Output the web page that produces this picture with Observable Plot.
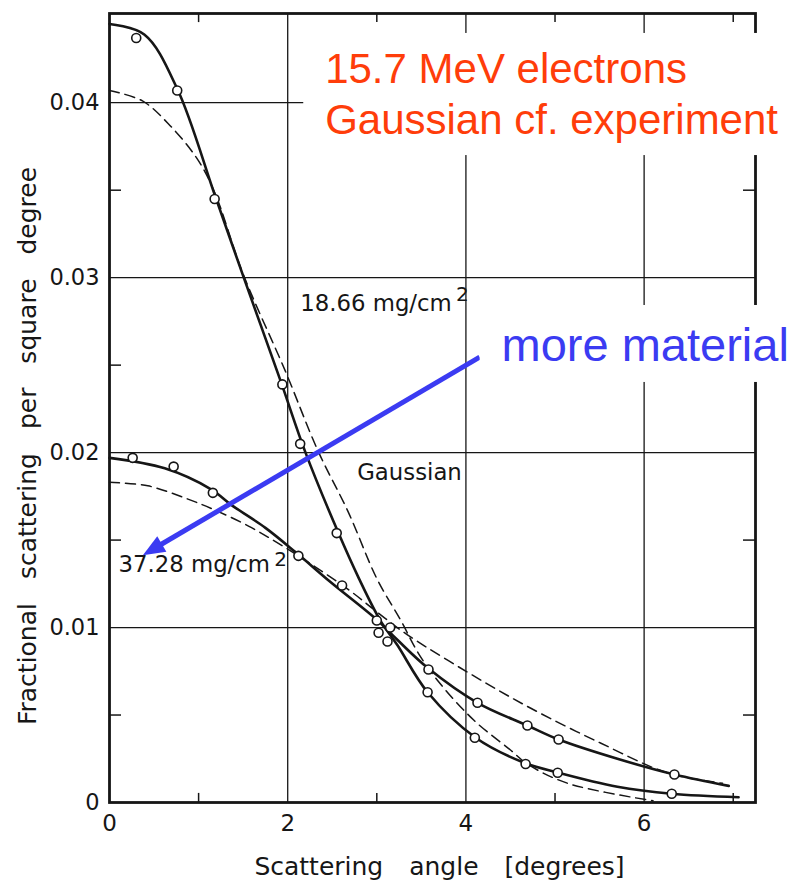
<!DOCTYPE html>
<html>
<head>
<meta charset="utf-8">
<script src="https://cdn.jsdelivr.net/npm/d3@7"></script>
<script src="https://cdn.jsdelivr.net/npm/@observablehq/plot@0.6"></script>
<style>
  body { margin: 0; background: #fff; }
</style>
</head>
<body>
<div id="chart"></div>
<script>
// ---- axis ticks ----
const xTickValues = [0, 2, 4, 6];
const xMinorTicks = [1, 3, 5, 7];
const yTickValues = [0, 0.01, 0.02, 0.03, 0.04];
const yMinorTicks = [0.005, 0.015, 0.025, 0.035];

// ---- 18.66 mg/cm2 : measured points ----
const pts1866X = [0.30, 0.76, 1.18, 1.94, 2.14, 2.55, 3.00, 3.12, 3.57, 4.10, 4.67, 5.03, 6.31];
const pts1866Y = [0.0437, 0.0407, 0.0345, 0.0239, 0.0205, 0.0154, 0.0104, 0.0092, 0.0063, 0.0037, 0.0022, 0.0017, 0.0005];
// ---- 18.66 mg/cm2 : experimental fit curve (solid) ----
const fit1866X = [0, 0.39, 0.76, 1.19, 1.50, 1.92, 2.20, 2.57, 2.80, 3.04, 3.23, 3.57, 4.11, 4.64, 5.04, 5.70, 6.31, 7.06];
const fit1866Y = [0.0445, 0.0439, 0.0408, 0.0346, 0.0301, 0.0241, 0.0200, 0.0154, 0.0128, 0.0104, 0.0090, 0.0063, 0.0037, 0.0023, 0.0017, 0.0009, 0.0005, 0.0003];
// ---- 18.66 mg/cm2 : Gaussian (dashed) ----
const gau1866X = [0, 0.37, 0.66, 0.97, 1.17, 1.50, 1.97, 2.34, 2.68, 3.00, 3.27, 3.47, 3.71, 4.09, 4.50, 4.69, 5.14, 6.10];
const gau1866Y = [0.0407, 0.0401, 0.0388, 0.0369, 0.0350, 0.0302, 0.0247, 0.0201, 0.0166, 0.0128, 0.0104, 0.0085, 0.0068, 0.0047, 0.0030, 0.0022, 0.0011, 0.0001];

// ---- 37.28 mg/cm2 : measured points ----
const pts3728X = [0.26, 0.72, 1.16, 2.12, 2.61, 3.02, 3.15, 3.58, 4.13, 4.69, 5.04, 6.34];
const pts3728Y = [0.0197, 0.0192, 0.0177, 0.0141, 0.0124, 0.0097, 0.0100, 0.0076, 0.0057, 0.0044, 0.0036, 0.0016];
// ---- 37.28 mg/cm2 : experimental fit curve (solid) ----
const fit3728X = [0, 0.62, 1.14, 1.37, 1.75, 2.09, 2.48, 3.01, 3.23, 3.57, 4.13, 4.69, 5.04, 5.70, 6.34, 6.95];
const fit3728Y = [0.0197, 0.0191, 0.0179, 0.0170, 0.0157, 0.0143, 0.0126, 0.0104, 0.0093, 0.0077, 0.0057, 0.0044, 0.0036, 0.0025, 0.0016, 0.00095];
// ---- 37.28 mg/cm2 : Gaussian (dashed) ----
const gau3728X = [0, 0.43, 0.85, 1.19, 1.56, 1.90, 2.30, 2.70, 3.00, 3.34, 4.20, 4.76, 5.51, 6.26, 6.88];
const gau3728Y = [0.0183, 0.0181, 0.0174, 0.0167, 0.0158, 0.0148, 0.0135, 0.0121, 0.0109, 0.0096, 0.0069, 0.0053, 0.0034, 0.0017, 0.0011];

// ---- texts ----
const xTitle = "Scattering angle [degrees]";
const yTitle = "Fractional scattering per square degree";
const titleLines = ["15.7 MeV electrons", "Gaussian cf. experiment"];
const arrowText = "more material";

const X_MAX = 7.25, Y_MAX = 0.0451;
const rows = (xs, ys) => xs.map((x, i) => ({x, y: ys[i]}));
const INK = "#161616";
const RED = "#ff3d0a";
const BLUE = "#3b3bf2";

// curve-label annotations (anchored in data coordinates)
const curveLabels = [
  {x: 2.14, y: 0.02812, t: "18.66 mg/cm"},
  {x: 2.78, y: 0.01841, t: "Gaussian"},
  {x: 0.10, y: 0.01315, t: "37.28 mg/cm"}
];
const supLabels = [
  {x: 3.89, y: 0.02865, t: "2"},
  {x: 1.85, y: 0.01352, t: "2"}
];
const arrowFrom = [4.16, 0.02543];
const arrowTo = [0.38, 0.01411];

function arrowMark(index, scales) {
  const x1 = scales.x(arrowFrom[0]), y1 = scales.y(arrowFrom[1]);
  const x2 = scales.x(arrowTo[0]), y2 = scales.y(arrowTo[1]);
  const a = Math.atan2(y2 - y1, x2 - x1);
  const L = 22, W = 9;
  const bx = x2 - L * Math.cos(a), by = y2 - L * Math.sin(a);
  const px = -Math.sin(a), py = Math.cos(a);
  const g = d3.create("svg:g");
  g.append("line")
    .attr("x1", x1).attr("y1", y1).attr("x2", bx + 2 * Math.cos(a)).attr("y2", by + 2 * Math.sin(a))
    .attr("stroke", BLUE).attr("stroke-width", 5);
  g.append("polygon")
    .attr("points", `${x2},${y2} ${bx + W * px},${by + W * py} ${bx - W * px},${by - W * py}`)
    .attr("fill", BLUE);
  return g.node();
}

const tickLenY = 0.00052;  // ~9px
const tickLenX = 0.135;    // ~12px
const LABEL_FONT = 22.8;

const plot = Plot.plot({
  width: 792,
  height: 883,
  marginLeft: 109,
  marginRight: 37,
  marginTop: 13,
  marginBottom: 81,
  style: {fontFamily: "DejaVu Sans", background: "white", color: INK},
  x: {domain: [0, X_MAX]},
  y: {domain: [0, Y_MAX]},
  marks: [
    // grid
    Plot.ruleX(xTickValues.filter(d => d > 0), {stroke: INK, strokeWidth: 1.3}),
    Plot.ruleY(yTickValues.filter(d => d > 0), {stroke: INK, strokeWidth: 1.3}),
    // minor inward ticks
    Plot.ruleX(xMinorTicks, {y1: 0, y2: tickLenY, stroke: INK, strokeWidth: 1.5}),
    Plot.ruleX(xMinorTicks, {y1: Y_MAX - tickLenY, y2: Y_MAX, stroke: INK, strokeWidth: 1.5}),
    Plot.ruleY(yMinorTicks, {x1: 0, x2: tickLenX, stroke: INK, strokeWidth: 1.5}),
    Plot.ruleY(yMinorTicks, {x1: X_MAX - tickLenX, x2: X_MAX, stroke: INK, strokeWidth: 1.5}),
    Plot.frame({stroke: INK, strokeWidth: 2.8}),
    // axes
    Plot.axisX(xTickValues, {tickSize: 0, tickPadding: 12, fontSize: 23, label: null}),
    Plot.axisY(yTickValues, {tickSize: 0, tickPadding: 10, fontSize: 22.5, label: null,
      tickFormat: d => d === 0 ? "0" : d3.format(".2f")(d)}),
    // curve labels with white halo (cuts grid lines like the original)
    Plot.text(curveLabels, {x: "x", y: "y", text: "t", textAnchor: "start", lineAnchor: "bottom",
      fontSize: LABEL_FONT, fill: INK, stroke: "white", strokeWidth: 6, paintOrder: "stroke"}),
    Plot.text(supLabels, {x: "x", y: "y", text: "t", textAnchor: "start", lineAnchor: "bottom",
      fontSize: 20, fill: INK}),
    // curves
    Plot.line(rows(gau1866X, gau1866Y), {x: "x", y: "y", curve: "catmull-rom", stroke: INK, strokeWidth: 1.5, strokeDasharray: "10,6"}),
    Plot.line(rows(gau3728X, gau3728Y), {x: "x", y: "y", curve: "catmull-rom", stroke: INK, strokeWidth: 1.5, strokeDasharray: "10,6"}),
    Plot.line(rows(fit1866X, fit1866Y), {x: "x", y: "y", curve: "catmull-rom", stroke: INK, strokeWidth: 2.6}),
    Plot.line(rows(fit3728X, fit3728Y), {x: "x", y: "y", curve: "catmull-rom", stroke: INK, strokeWidth: 2.6}),
    // points
    Plot.dot(rows(pts1866X, pts1866Y), {x: "x", y: "y", r: 4.5, stroke: INK, strokeWidth: 1.6, fill: "white"}),
    Plot.dot(rows(pts3728X, pts3728Y), {x: "x", y: "y", r: 4.5, stroke: INK, strokeWidth: 1.6, fill: "white"}),
    // axis titles
    Plot.text([xTitle], {frameAnchor: "bottom", textAnchor: "middle", dx: 7, dy: 72, lineAnchor: "bottom", fontSize: 25, fill: INK}),
    Plot.text([yTitle], {frameAnchor: "left", textAnchor: "middle", rotate: -90, dx: -74, dy: 38, lineAnchor: "bottom", fontSize: 25, fill: INK}),
    // red title box
    Plot.rect([0], {x1: 2.18, x2: 7.7, y1: 0.03698, y2: 0.04396, fill: "white"}),
    Plot.text([0, 1], {x: 2.42, y: i => [0.0411, 0.03824][i], text: i => titleLines[i],
      textAnchor: "start", lineAnchor: "bottom", fontFamily: "Liberation Sans, Arial, sans-serif", fontSize: 42, fill: RED}),
    // blue arrow + label
    arrowMark,
    Plot.rect([0], {x1: 4.16, x2: 7.7, y1: 0.02401, y2: 0.02841, fill: "white"}),
    Plot.text([arrowText], {x: 4.40, y: 0.02521, textAnchor: "start", lineAnchor: "bottom",
      fontFamily: "Liberation Sans, Arial, sans-serif", fontSize: 47, fill: BLUE})
  ]
});

// wide word spacing of the original lettering on the axis titles
d3.select(plot).selectAll("text")
  .filter(function() { return this.textContent === xTitle; })
  .style("word-spacing", "18px");
d3.select(plot).selectAll("text")
  .filter(function() { return this.textContent === yTitle; })
  .style("word-spacing", "16px");

document.getElementById("chart").appendChild(plot);
</script>
</body>
</html>
